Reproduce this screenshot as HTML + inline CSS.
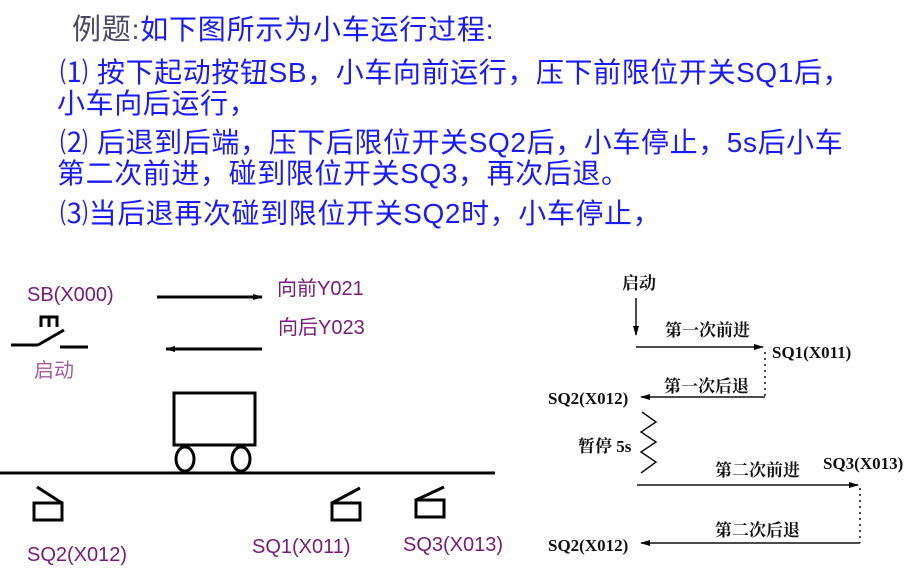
<!DOCTYPE html>
<html><head><meta charset="utf-8"><style>
body{margin:0;width:910px;height:578px;background:#fff;overflow:hidden;position:relative;font-family:"Liberation Sans","Noto Sans CJK SC",sans-serif}
.t{position:absolute;white-space:nowrap;font-size:28px;letter-spacing:0.6px;color:#1a1aff;line-height:30px}
</style></head><body>
<div class="t" style="left:72px;top:15px;letter-spacing:0.8px"><span style="color:#4a4a6a;font-size:29px">例题</span><span style="color:#4a4a6a">:</span>如下图所示为小车运行过程:</div>
<div class="t" style="left:60px;top:58px;">⑴ 按下起动按钮SB，小车向前运行，压下前限位开关SQ1后，</div>
<div class="t" style="left:57px;top:89px;">小车向后运行，</div>
<div class="t" style="left:60px;top:128px;">⑵ 后退到后端，压下后限位开关SQ2后，小车停止，5s后小车</div>
<div class="t" style="left:57px;top:159px;">第二次前进，碰到限位开关SQ3，再次后退。</div>
<div class="t" style="left:60px;top:199px;">⑶当后退再次碰到限位开关SQ2时，小车停止，</div>
<svg width="910" height="578" style="position:absolute;left:0;top:0" xmlns="http://www.w3.org/2000/svg">
<defs><marker id="a" markerWidth="10" markerHeight="8" refX="9" refY="4" orient="auto" markerUnits="userSpaceOnUse"><path d="M0,1 L10,4 L0,7z" fill="#000"/></marker></defs>
<g fill="#7a1a7a" font-family="Liberation Sans,Noto Sans CJK SC,sans-serif" font-size="20">
<text x="27" y="301">SB(X000)</text>
<text x="277" y="295">向前Y021</text>
<text x="278" y="334">向后Y023</text>
<text x="34" y="377" fill="#a060a0">启动</text>
<text x="27" y="561">SQ2(X012)</text>
<text x="252" y="553">SQ1(X011)</text>
<text x="403" y="551">SQ3(X013)</text>
</g>
<g stroke="#000" stroke-width="3" fill="none">
<line x1="157" y1="297" x2="262" y2="297" marker-end="url(#a)"/>
<line x1="262" y1="349" x2="166" y2="349" marker-end="url(#a)"/>
<line x1="11" y1="345" x2="38" y2="345"/><line x1="38" y1="345" x2="64" y2="330"/><line x1="60" y1="347" x2="88" y2="347"/>
<path d="M41,327 V317 H57 V327 M49,317 V327"/>
<rect x="174" y="393" width="81" height="52"/>
<ellipse cx="185" cy="459" rx="9" ry="12"/><ellipse cx="241" cy="459" rx="9" ry="12"/>
<line x1="0" y1="473" x2="495" y2="473"/>
<rect x="34" y="503" width="28" height="17"/><line x1="37" y1="487" x2="62" y2="503"/>
<rect x="332" y="503" width="28" height="17"/><line x1="332" y1="503" x2="360" y2="488"/>
<rect x="416" y="500" width="28" height="17"/><line x1="416" y1="500" x2="444" y2="487"/>
</g>
<g stroke="#111" stroke-width="1.5" fill="none">
<line x1="636" y1="298" x2="636" y2="335" marker-end="url(#a)"/>
<line x1="636" y1="347" x2="763" y2="347" marker-end="url(#a)"/>
<line x1="765" y1="352" x2="765" y2="397" stroke-dasharray="2,4"/>
<line x1="765" y1="397" x2="641" y2="397" marker-end="url(#a)"/>
<path d="M642,412 L656,422 L641,432 L656,442 L641,452 L656,462 L641,473"/>
<line x1="637" y1="485" x2="858" y2="485" marker-end="url(#a)"/>
<line x1="860" y1="488" x2="860" y2="543" stroke-dasharray="2,4"/>
<line x1="860" y1="543" x2="641" y2="543" marker-end="url(#a)"/>
</g>
<g fill="#111" font-family="Liberation Serif,Noto Serif CJK SC,serif" font-size="17" font-weight="bold">
<text x="622" y="289">启动</text>
<text x="665" y="336">第一次前进</text>
<text x="772" y="358">SQ1(X011)</text>
<text x="664" y="392">第一次后退</text>
<text x="548" y="404">SQ2(X012)</text>
<text x="578" y="452">暂停 5s</text>
<text x="715" y="476">第二次前进</text>
<text x="823" y="469">SQ3(X013)</text>
<text x="715" y="536">第二次后退</text>
<text x="548" y="551">SQ2(X012)</text>
</g>
</svg>
</body></html>
